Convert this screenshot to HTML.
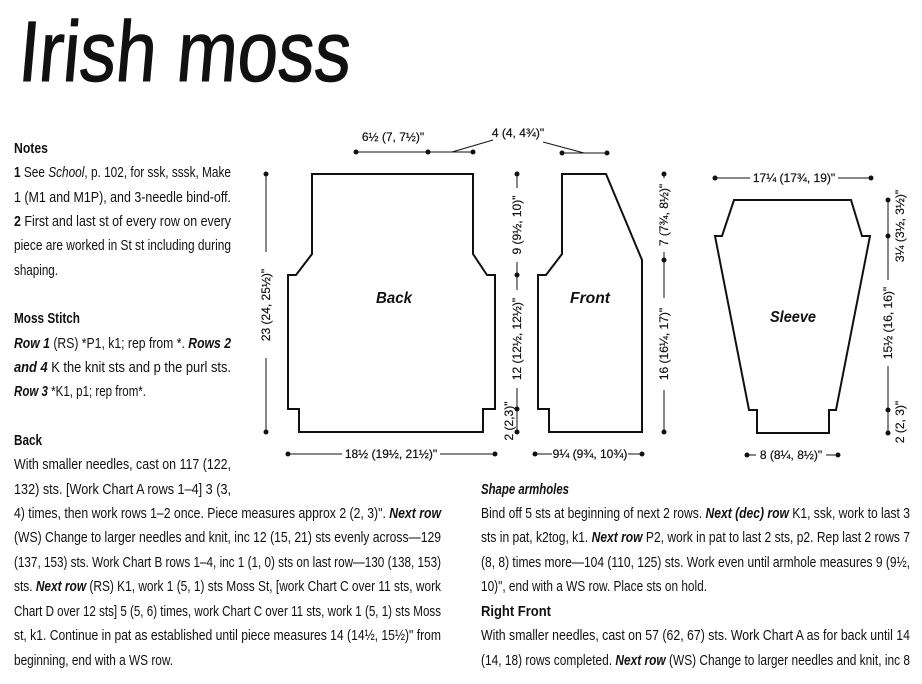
<!DOCTYPE html>
<html><head><meta charset="utf-8"><style>
html,body{margin:0;padding:0;background:#fff;}
svg{display:block;}
text{font-family:"Liberation Sans",sans-serif;fill:#111;}
.t{font-size:15px;}
.d{font-size:12px;font-family:"Liberation Sans Narrow","Liberation Sans",sans-serif;stroke:#111;stroke-width:0.2;}
.b{font-weight:bold;}
.i{font-style:italic;}
</style></head><body>
<svg width="922" height="684" viewBox="0 0 922 684" xmlns="http://www.w3.org/2000/svg">
<rect width="922" height="684" fill="#fff"/>
<text x="18" y="81" font-size="86" textLength="332" lengthAdjust="spacingAndGlyphs" stroke="#111" stroke-width="1" transform="skewX(-5) translate(6,0)">Irish moss</text>

<g class="t">
<text x="14" y="153" class="b" textLength="34" lengthAdjust="spacingAndGlyphs">Notes</text>
<text x="14" y="177" textLength="217" lengthAdjust="spacingAndGlyphs"><tspan class="b">1</tspan> See <tspan class="i">School</tspan>, p. 102, for ssk, sssk, Make</text>
<text x="14" y="202" textLength="217" lengthAdjust="spacingAndGlyphs">1 (M1 and M1P), and 3-needle bind-off.</text>
<text x="14" y="226" textLength="217" lengthAdjust="spacingAndGlyphs"><tspan class="b">2</tspan> First and last st of every row on every</text>
<text x="14" y="250" textLength="217" lengthAdjust="spacingAndGlyphs">piece are worked in St st including during</text>
<text x="14" y="275" textLength="44" lengthAdjust="spacingAndGlyphs">shaping.</text>
<text x="14" y="323" class="b" textLength="66" lengthAdjust="spacingAndGlyphs">Moss Stitch</text>
<text x="14" y="348" textLength="217" lengthAdjust="spacingAndGlyphs"><tspan class="b i">Row 1</tspan> (RS) *P1, k1; rep from *. <tspan class="b i">Rows 2</tspan></text>
<text x="14" y="372" textLength="217" lengthAdjust="spacingAndGlyphs"><tspan class="b i">and 4</tspan> K the knit sts and p the purl sts.</text>
<text x="14" y="396" textLength="132" lengthAdjust="spacingAndGlyphs"><tspan class="b i">Row 3</tspan> *K1, p1; rep from*.</text>
<text x="14" y="445" class="b" textLength="28" lengthAdjust="spacingAndGlyphs">Back</text>
<text x="14" y="469" textLength="217" lengthAdjust="spacingAndGlyphs">With smaller needles, cast on 117 (122,</text>
<text x="14" y="494" textLength="217" lengthAdjust="spacingAndGlyphs">132) sts. [Work Chart A rows 1–4] 3 (3,</text>
<text x="14" y="518" textLength="427" lengthAdjust="spacingAndGlyphs">4) times, then work rows 1–2 once. Piece measures approx 2 (2, 3)". <tspan class="b i">Next row</tspan></text>
<text x="14" y="542" textLength="427" lengthAdjust="spacingAndGlyphs">(WS) Change to larger needles and knit, inc 12 (15, 21) sts evenly across—129</text>
<text x="14" y="567" textLength="427" lengthAdjust="spacingAndGlyphs">(137, 153) sts. Work Chart B rows 1–4, inc 1 (1, 0) sts on last row—130 (138, 153)</text>
<text x="14" y="591" textLength="427" lengthAdjust="spacingAndGlyphs">sts. <tspan class="b i">Next row</tspan> (RS) K1, work 1 (5, 1) sts Moss St, [work Chart C over 11 sts, work</text>
<text x="14" y="616" textLength="427" lengthAdjust="spacingAndGlyphs">Chart D over 12 sts] 5 (5, 6) times, work Chart C over 11 sts, work 1 (5, 1) sts Moss</text>
<text x="14" y="640" textLength="427" lengthAdjust="spacingAndGlyphs">st, k1. Continue in pat as established until piece measures 14 (14½, 15½)" from</text>
<text x="14" y="665" textLength="159" lengthAdjust="spacingAndGlyphs">beginning, end with a WS row.</text>

<text x="481" y="494" class="b i" textLength="88" lengthAdjust="spacingAndGlyphs">Shape armholes</text>
<text x="481" y="518" textLength="429" lengthAdjust="spacingAndGlyphs">Bind off 5 sts at beginning of next 2 rows. <tspan class="b i">Next (dec) row</tspan> K1, ssk, work to last 3</text>
<text x="481" y="542" textLength="429" lengthAdjust="spacingAndGlyphs">sts in pat, k2tog, k1. <tspan class="b i">Next row</tspan> P2, work in pat to last 2 sts, p2. Rep last 2 rows 7</text>
<text x="481" y="567" textLength="429" lengthAdjust="spacingAndGlyphs">(8, 8) times more—104 (110, 125) sts. Work even until armhole measures 9 (9½,</text>
<text x="481" y="591" textLength="226" lengthAdjust="spacingAndGlyphs">10)", end with a WS row. Place sts on hold.</text>
<text x="481" y="616" class="b" textLength="70" lengthAdjust="spacingAndGlyphs">Right Front</text>
<text x="481" y="640" textLength="429" lengthAdjust="spacingAndGlyphs">With smaller needles, cast on 57 (62, 67) sts. Work Chart A as for back until 14</text>
<text x="481" y="665" textLength="429" lengthAdjust="spacingAndGlyphs">(14, 18) rows completed. <tspan class="b i">Next row</tspan> (WS) Change to larger needles and knit, inc 8</text>
</g>

<g fill="none" stroke="#111" stroke-width="2">
<path d="M312,174 H473 V254 L487,275 H495 V409 H483 V432 H299 V409 H288 V275 H296 L312,254 Z"/>
<path d="M562,174 H606 L642,260 V432 H549 V409 H538 V275 H546 L562,254 Z"/>
<path d="M734,200 H851 L862,236 H870 L836,410 H829 V433 H757 V410 H749 L715,236 H722 Z"/>
</g>
<g font-size="16">
<text x="394" y="303" text-anchor="middle" textLength="36" lengthAdjust="spacingAndGlyphs" style="font-weight:bold;font-style:italic">Back</text>
<text x="590" y="303" text-anchor="middle" textLength="40" lengthAdjust="spacingAndGlyphs" style="font-weight:bold;font-style:italic">Front</text>
<text x="793" y="322" text-anchor="middle" textLength="46" lengthAdjust="spacingAndGlyphs" style="font-weight:bold;font-style:italic">Sleeve</text>
</g>

<g stroke="#111" stroke-width="1">
<line x1="356" y1="152" x2="473" y2="152"/>
<line x1="452" y1="152" x2="493" y2="140"/>
<line x1="562" y1="153" x2="607" y2="153"/>
<line x1="543" y1="142" x2="584" y2="153"/>
<line x1="266" y1="174" x2="266" y2="432"/>
<line x1="517" y1="174" x2="517" y2="432"/>
<line x1="664" y1="174" x2="664" y2="432"/>
<line x1="288" y1="454" x2="495" y2="454"/>
<line x1="535" y1="454" x2="642" y2="454"/>
<line x1="715" y1="178" x2="871" y2="178"/>
<line x1="888" y1="200" x2="888" y2="433"/>
<line x1="747" y1="455" x2="838" y2="455"/>
</g>
<g fill="#111">
<circle cx="356" cy="152" r="2.5"/><circle cx="428" cy="152" r="2.5"/><circle cx="473" cy="152" r="2.5"/>
<circle cx="562" cy="153" r="2.5"/><circle cx="607" cy="153" r="2.5"/>
<circle cx="266" cy="174" r="2.5"/><circle cx="266" cy="432" r="2.5"/>
<circle cx="517" cy="174" r="2.5"/><circle cx="517" cy="275" r="2.5"/><circle cx="517" cy="409" r="2.5"/><circle cx="517" cy="432" r="2.5"/>
<circle cx="664" cy="174" r="2.5"/><circle cx="664" cy="260" r="2.5"/><circle cx="664" cy="432" r="2.5"/>
<circle cx="288" cy="454" r="2.5"/><circle cx="495" cy="454" r="2.5"/>
<circle cx="535" cy="454" r="2.5"/><circle cx="642" cy="454" r="2.5"/>
<circle cx="715" cy="178" r="2.5"/><circle cx="871" cy="178" r="2.5"/>
<circle cx="888" cy="200" r="2.5"/><circle cx="888" cy="236" r="2.5"/><circle cx="888" cy="410" r="2.5"/><circle cx="888" cy="433" r="2.5"/>
<circle cx="747" cy="455" r="2.5"/><circle cx="838" cy="455" r="2.5"/>
</g>
<g fill="#fff">
<rect x="259" y="252" width="14" height="106"/>
<rect x="510" y="188" width="14" height="74"/>
<rect x="510" y="290" width="14" height="98"/>
<rect x="657" y="178" width="14" height="74"/>
<rect x="657" y="298" width="14" height="92"/>
<rect x="881" y="280" width="14" height="86"/>
<rect x="342" y="447" width="98" height="14"/>
<rect x="552" y="447" width="76" height="14"/>
<rect x="756" y="448" width="70" height="14"/>
<rect x="750" y="171" width="88" height="14"/>
</g>
<g class="d">
<text x="393" y="141" text-anchor="middle">6½ (7, 7½)"</text>
<text x="518" y="137" text-anchor="middle">4 (4, 4¾)"</text>
<text x="391" y="458" text-anchor="middle">18½ (19½, 21½)"</text>
<text x="590" y="458" text-anchor="middle">9¼ (9¾, 10¾)</text>
<text x="791" y="459" text-anchor="middle">8 (8¼, 8½)"</text>
<text x="794" y="182" text-anchor="middle">17¼ (17¾, 19)"</text>
<text transform="translate(270,305) rotate(-90)" text-anchor="middle">23 (24, 25½)"</text>
<text transform="translate(521,225) rotate(-90)" text-anchor="middle">9 (9½, 10)"</text>
<text transform="translate(521,339) rotate(-90)" text-anchor="middle">12 (12½, 12½)"</text>
<text transform="translate(513,421) rotate(-90)" text-anchor="middle">2 (2,3)"</text>
<text transform="translate(668,215) rotate(-90)" text-anchor="middle">7 (7¾, 8½)"</text>
<text transform="translate(668,344) rotate(-90)" text-anchor="middle">16 (16¼, 17)"</text>
<text transform="translate(904,226) rotate(-90)" text-anchor="middle">3¼ (3½, 3½)"</text>
<text transform="translate(892,323) rotate(-90)" text-anchor="middle">15½ (16, 16)"</text>
<text transform="translate(904,422) rotate(-90)" text-anchor="middle">2 (2, 3)"</text>
</g>
</svg>
</body></html>
